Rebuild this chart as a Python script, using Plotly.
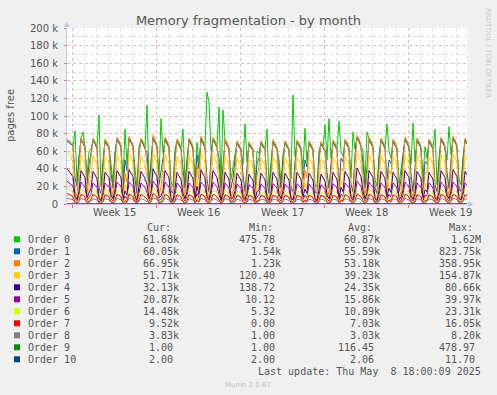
import pandas as pd
import plotly.graph_objects as go

# ---------------- data (values in thousands of pages) ----------------
# 4-hourly samples starting 2025-04-06 14:00 (first row partial day: 14,18,22h;
# then each row = one day at 02,06,10,14,18,22h)
order0 = [72, 70, 68,
    66, 83, 25, 55, 74, 82,
    65, 30, 60, 62, 73, 69,
    64, 101, 20, 50, 72, 68,
    65, 45, 25, 60, 74, 70,
    66, 25, 85, 45, 75, 71,
    66, 40, 20, 65, 73, 69,
    64, 112, 25, 48, 76, 71,
    66, 30, 97, 58, 74, 70,
    65, 25, 20, 62, 72, 68,
    63, 85, 25, 52, 73, 69,
    64, 25, 70, 46, 75, 70,
    65, 127, 116, 60, 74, 70,
    65, 110, 20, 107, 72, 68,
    63, 28, 40, 56, 70, 66,
    62, 45, 91, 48, 69, 65,
    62, 22, 60, 58, 70, 66,
    63, 85, 20, 48, 71, 67,
    63, 50, 25, 56, 70, 66,
    62, 28, 124, 54, 71, 67,
    63, 40, 86, 48, 70, 66,
    62, 22, 20, 60, 69, 65,
    90, 50, 97, 52, 71, 67,
    63, 94, 60, 54, 72, 68,
    64, 30, 82, 62, 76, 72,
    66, 60, 25, 82, 74, 70,
    65, 28, 20, 56, 73, 69,
    64, 91, 60, 52, 72, 68,
    63, 22, 40, 60, 74, 70,
    65, 45, 92, 48, 73, 69,
    64, 28, 65, 52, 72, 68,
    63, 85, 22, 52, 74, 70,
    65, 50, 88, 56, 75, 71,
    66, 28, 22, 54, 73, 69]

order1 = [72, 70, 68,
    66, 30, 20, 50, 73, 69,
    64, 22, 45, 58, 72, 68,
    63, 18, 12, 46, 71, 67,
    64, 35, 18, 55, 73, 69,
    65, 15, 50, 38, 74, 70,
    65, 28, 12, 60, 72, 68,
    63, 58, 18, 42, 75, 70,
    65, 22, 35, 52, 73, 69,
    64, 15, 12, 56, 71, 67,
    62, 40, 18, 46, 72, 68,
    63, 18, 56, 40, 74, 69,
    64, 28, 14, 54, 73, 69,
    64, 52, 12, 44, 71, 67,
    62, 18, 30, 50, 69, 65,
    61, 34, 14, 42, 68, 64,
    61, 14, 46, 52, 69, 65,
    62, 26, 12, 42, 70, 66,
    62, 38, 18, 50, 69, 65,
    61, 18, 14, 48, 70, 66,
    62, 28, 50, 42, 69, 65,
    61, 14, 12, 54, 68, 64,
    60, 36, 18, 46, 70, 66,
    62, 18, 52, 48, 71, 67,
    63, 22, 14, 56, 75, 71,
    65, 46, 18, 42, 73, 69,
    64, 18, 12, 50, 72, 68,
    63, 28, 50, 46, 71, 67,
    62, 14, 28, 54, 73, 69,
    64, 34, 14, 42, 72, 68,
    63, 18, 48, 46, 71, 67,
    62, 22, 14, 46, 73, 69,
    64, 36, 18, 50, 74, 70,
    65, 18, 14, 48, 72, 68]

order2 = [74, 72, 70,
    68, 15, 8, 40, 76, 72,
    66, 10, 30, 50, 75, 71,
    65, 8, 5, 35, 74, 70,
    66, 20, 8, 45, 76, 72,
    67, 6, 35, 25, 77, 72,
    67, 14, 5, 55, 75, 71,
    65, 45, 8, 30, 78, 73,
    67, 10, 20, 42, 76, 72,
    66, 6, 5, 48, 74, 70,
    64, 25, 8, 35, 75, 71,
    65, 8, 45, 28, 77, 72,
    66, 14, 6, 44, 76, 72,
    66, 38, 5, 32, 74, 70,
    64, 8, 15, 40, 72, 68,
    63, 18, 6, 30, 71, 67,
    63, 6, 32, 42, 72, 68,
    64, 12, 5, 30, 73, 69,
    64, 24, 8, 40, 72, 68,
    63, 8, 6, 36, 73, 69,
    64, 14, 38, 30, 72, 68,
    63, 6, 5, 44, 71, 67,
    62, 22, 8, 34, 73, 69,
    64, 8, 40, 38, 74, 70,
    65, 10, 6, 46, 78, 74,
    67, 32, 8, 30, 76, 72,
    66, 8, 5, 40, 75, 71,
    65, 14, 38, 34, 74, 70,
    64, 6, 14, 44, 76, 72,
    66, 18, 6, 30, 75, 71,
    65, 8, 35, 36, 74, 70,
    64, 10, 6, 34, 76, 72,
    66, 22, 8, 40, 77, 73,
    67, 8, 6, 36, 75, 71]

order3 = [60, 57, 53,
    47, 12, 5, 22, 56, 51,
    46, 8, 18, 28, 55, 50,
    45, 6, 4, 20, 54, 50,
    46, 14, 6, 25, 56, 51,
    47, 5, 22, 15, 57, 52,
    47, 10, 4, 30, 55, 50,
    45, 30, 6, 18, 58, 52,
    47, 8, 12, 24, 56, 51,
    46, 5, 4, 26, 54, 49,
    44, 16, 6, 20, 55, 50,
    45, 6, 28, 16, 57, 52,
    46, 10, 5, 25, 56, 51,
    46, 24, 4, 19, 54, 49,
    44, 6, 10, 23, 52, 48,
    43, 12, 5, 18, 51, 47,
    43, 5, 20, 24, 52, 48,
    44, 8, 4, 18, 53, 49,
    44, 15, 6, 23, 52, 48,
    43, 6, 5, 21, 53, 49,
    44, 10, 24, 18, 52, 48,
    43, 5, 4, 25, 51, 47,
    42, 14, 6, 20, 53, 49,
    44, 6, 26, 22, 54, 50,
    45, 8, 5, 26, 58, 53,
    47, 20, 6, 18, 56, 51,
    46, 6, 4, 23, 55, 50,
    45, 10, 24, 20, 54, 50,
    44, 5, 9, 25, 56, 51,
    46, 12, 5, 18, 55, 50,
    45, 6, 22, 21, 54, 50,
    44, 8, 5, 20, 56, 51,
    46, 14, 6, 23, 57, 52,
    47, 6, 5, 21, 55, 50]

order4 = [40.5, 37, 34,
    31, 9, 5, 14, 38, 34,
    30, 7, 12, 18, 37, 33,
    29, 6, 4, 13, 36, 33,
    30, 10, 6, 16, 38, 34,
    30, 5, 15, 10, 39, 35,
    31, 8, 4, 20, 37, 33,
    29, 22, 6, 12, 40, 35,
    31, 7, 9, 15, 38, 34,
    30, 5, 4, 17, 36, 32,
    28, 12, 6, 14, 37, 33,
    29, 6, 20, 11, 39, 34,
    30, 8, 5, 16, 38, 34,
    30, 18, 4, 13, 36, 32,
    28, 6, 7, 15, 35, 31,
    27, 9, 5, 12, 34, 30,
    27, 5, 14, 16, 35, 31,
    28, 7, 4, 12, 36, 32,
    28, 11, 6, 15, 35, 31,
    27, 6, 5, 14, 36, 32,
    28, 8, 17, 12, 35, 31,
    27, 5, 4, 16, 34, 30,
    26, 10, 6, 13, 36, 32,
    28, 6, 19, 14, 37, 33,
    29, 7, 5, 17, 41, 36,
    31, 15, 6, 12, 38, 34,
    30, 6, 4, 15, 37, 33,
    29, 8, 18, 13, 36, 32,
    28, 5, 7, 16, 38, 34,
    30, 9, 5, 12, 37, 33,
    29, 6, 16, 14, 36, 32,
    28, 7, 5, 13, 38, 34,
    30, 10, 6, 15, 39, 35,
    31, 6, 5, 14, 37, 33]

order5 = [26, 24, 22,
    20, 5, 3, 9, 25, 22,
    19, 4, 7, 11, 24, 21,
    19, 3, 2, 8, 24, 21,
    20, 6, 3, 10, 25, 22,
    20, 3, 9, 6, 25, 22,
    20, 5, 2, 12, 24, 21,
    19, 13, 3, 7, 26, 23,
    20, 4, 5, 9, 25, 22,
    19, 3, 2, 10, 24, 21,
    18, 7, 3, 8, 24, 21,
    19, 3, 12, 7, 25, 22,
    20, 5, 3, 10, 25, 22,
    19, 11, 2, 8, 24, 21,
    18, 3, 4, 9, 23, 20,
    18, 5, 3, 7, 22, 20,
    18, 3, 8, 10, 23, 20,
    18, 4, 2, 7, 23, 21,
    18, 6, 3, 9, 23, 20,
    18, 3, 3, 8, 23, 21,
    18, 5, 10, 7, 23, 20,
    17, 3, 2, 10, 22, 20,
    17, 6, 3, 8, 23, 21,
    18, 3, 11, 9, 24, 21,
    19, 4, 3, 10, 26, 23,
    20, 9, 3, 7, 25, 22,
    19, 3, 2, 9, 24, 21,
    19, 5, 11, 8, 24, 21,
    18, 3, 4, 10, 25, 22,
    19, 5, 3, 7, 24, 21,
    19, 3, 10, 9, 24, 21,
    18, 4, 3, 8, 25, 22,
    19, 6, 3, 9, 25, 22,
    20, 3, 3, 9, 24, 21]

order6 = [18, 16, 14,
    13, 3, 2, 6, 17, 15,
    12, 2, 5, 7, 16, 14,
    12, 2, 1, 5, 16, 14,
    13, 4, 2, 6, 17, 15,
    13, 2, 6, 4, 17, 15,
    13, 3, 1, 8, 16, 14,
    12, 9, 2, 5, 18, 15,
    13, 3, 3, 6, 17, 15,
    12, 2, 1, 6, 16, 14,
    12, 5, 2, 5, 16, 14,
    12, 2, 8, 5, 17, 15,
    13, 3, 2, 6, 17, 15,
    12, 7, 1, 5, 16, 14,
    12, 2, 3, 6, 15, 13,
    11, 3, 2, 5, 15, 13,
    11, 2, 5, 6, 15, 13,
    12, 3, 1, 5, 15, 14,
    12, 4, 2, 6, 15, 13,
    11, 2, 2, 5, 15, 14,
    12, 3, 7, 5, 15, 13,
    11, 2, 1, 6, 15, 13,
    11, 4, 2, 5, 15, 14,
    12, 2, 7, 6, 16, 14,
    12, 3, 2, 6, 17, 15,
    13, 6, 2, 5, 17, 15,
    12, 2, 1, 6, 16, 14,
    12, 3, 7, 5, 16, 14,
    12, 2, 3, 6, 17, 15,
    12, 3, 2, 5, 16, 14,
    12, 2, 6, 6, 16, 14,
    12, 3, 2, 5, 17, 15,
    12, 4, 2, 6, 17, 15,
    13, 2, 2, 6, 16, 14]

order7 = [12, 10.5, 9.5,
    8.5, 2, 1, 4, 11, 10,
    8, 1, 3, 5, 11, 9.5,
    8, 1, 0.5, 3, 10.5, 9.5,
    8.5, 2.5, 1, 4, 11, 10,
    8.5, 1, 4, 2.5, 11.5, 10,
    8.5, 2, 0.5, 5, 11, 9.5,
    8, 6, 1, 3, 12, 10,
    8.5, 1.5, 2, 4, 11, 10,
    8, 1, 0.5, 4, 10.5, 9.5,
    8, 3, 1, 3, 10.5, 9.5,
    8, 1, 5, 3, 11, 10,
    8.5, 2, 1, 4, 11, 10,
    8, 4.5, 0.5, 3, 10.5, 9.5,
    8, 1, 2, 4, 10, 9,
    7.5, 2, 1, 3, 10, 9,
    7.5, 1, 3.5, 4, 10, 9,
    8, 2, 0.5, 3, 10, 9,
    8, 2.5, 1, 4, 10, 9,
    7.5, 1, 1, 3, 10, 9,
    8, 2, 4.5, 3, 10, 9,
    7.5, 1, 0.5, 4, 10, 9,
    7.5, 2.5, 1, 3, 10, 9,
    8, 1, 4.5, 4, 10.5, 9.5,
    8, 2, 1, 4, 11.5, 10,
    8.5, 4, 1, 3, 11, 10,
    8, 1, 0.5, 4, 10.5, 9.5,
    8, 2, 4.5, 3, 10.5, 9.5,
    8, 1, 2, 4, 11, 10,
    8, 2, 1, 3, 10.5, 9.5,
    8, 1, 4, 4, 10.5, 9.5,
    8, 2, 1, 3, 11, 10,
    8, 2.5, 1, 4, 11, 10,
    8.5, 1, 1, 4, 10.5, 9.5]

order8 = [6.5, 6, 5.5,
    5, 1.5, 1, 2.5, 6.5, 5.5,
    5, 1, 2, 3, 6, 5.5,
    4.5, 1, 1, 2, 6, 5.5,
    5, 1.5, 1, 2.5, 6.5, 5.5,
    5, 1, 2.5, 1.5, 6.5, 6,
    5, 1.5, 1, 3, 6, 5.5,
    4.5, 3, 1, 2, 7, 6,
    5, 1, 1.5, 2.5, 6.5, 5.5,
    4.5, 1, 1, 2.5, 6, 5.5,
    4.5, 2, 1, 2, 6, 5.5,
    4.5, 1, 3, 2, 6.5, 5.5,
    5, 1.5, 1, 2.5, 6.5, 5.5,
    4.5, 2.5, 1, 2, 6, 5.5,
    4.5, 1, 1.5, 2.5, 5.5, 5,
    4, 1.5, 1, 2, 5.5, 5,
    4, 1, 2, 2.5, 5.5, 5,
    4.5, 1, 1, 2, 5.5, 5,
    4.5, 1.5, 1, 2.5, 5.5, 5,
    4, 1, 1, 2, 5.5, 5,
    4.5, 1.5, 2.5, 2, 5.5, 5,
    4, 1, 1, 2.5, 5.5, 5,
    4, 1.5, 1, 2, 5.5, 5,
    4.5, 1, 2.5, 2.5, 6, 5.5,
    4.5, 1.5, 1, 2.5, 6.5, 6,
    5, 2, 1, 2, 6.5, 5.5,
    4.5, 1, 1, 2.5, 6, 5.5,
    4.5, 1.5, 2.5, 2, 6, 5.5,
    4.5, 1, 1.5, 2.5, 6.5, 5.5,
    4.5, 1.5, 1, 2, 6, 5.5,
    4.5, 1, 2, 2.5, 6, 5.5,
    4.5, 1.5, 1, 2, 6.5, 5.5,
    4.5, 1.5, 1, 2.5, 6.5, 6,
    5, 1, 1, 2.5, 6, 5.5]

# daily samples starting 2025-04-06 14:00
order9 = [0.10, 0.12, 0.08, 0.15, 0.11, 0.09, 0.13, 0.10, 0.12, 0.14, 0.09, 0.11,
          0.10, 0.13, 0.12, 0.08, 0.10, 0.15, 0.11, 0.12, 0.09, 0.10, 0.14, 0.12,
          0.11, 0.13, 0.10, 0.09, 0.12, 0.11, 0.13, 0.10, 0.12, 0.11, 0.10]
order10 = [0.002, 0.002, 0.0021, 0.002, 0.002, 0.0022, 0.002, 0.002, 0.0021, 0.002,
           0.002, 0.002, 0.0023, 0.002, 0.002, 0.0021, 0.002, 0.002, 0.002, 0.0022,
           0.002, 0.002, 0.0021, 0.002, 0.002, 0.002, 0.0021, 0.002, 0.002, 0.0022,
           0.002, 0.002, 0.0021, 0.002, 0.002]

series_names = ["Order 0", "Order 1", "Order 2", "Order 3", "Order 4", "Order 5",
                "Order 6", "Order 7", "Order 8", "Order 9", "Order 10"]
series_colors = ["#00CC00", "#0066B3", "#FF8000", "#FFCC00", "#330099", "#990099",
                 "#CCFF00", "#FF0000", "#808080", "#008F00", "#00487D"]
cur_vals = ["61.68k", "60.05k", "66.95k", "51.71k", "32.13k", "20.87k", "14.48k",
            "9.52k", "3.83k", "1.00", "2.00"]
min_vals = ["475.78", "1.54k", "1.23k", "120.40", "138.72", "10.12", "5.32",
            "0.00", "1.00", "1.00", "2.00"]
avg_vals = ["60.87k", "55.59k", "53.18k", "39.23k", "24.35k", "15.86k", "10.89k",
            "7.03k", "3.03k", "116.45", "2.06"]
max_vals = ["1.62M", "823.75k", "358.95k", "154.87k", "80.66k", "39.97k", "23.31k",
            "16.05k", "8.20k", "478.97", "11.70"]

y_tick_vals = [0, 20, 40, 60, 80, 100, 120, 140, 160, 180, 200]
y_tick_text = ["0", "20 k", "40 k", "60 k", "80 k", "100 k", "120 k", "140 k",
               "160 k", "180 k", "200 k"]
week_starts = ["2025-04-07", "2025-04-14", "2025-04-21", "2025-04-28", "2025-05-05"]
week_mids = ["2025-04-10 12:00", "2025-04-17 12:00", "2025-04-24 12:00",
             "2025-05-01 12:00", "2025-05-08 12:00"]
week_labels = ["Week 15", "Week 16", "Week 17", "Week 18", "Week 19"]

# ---------------- layout geometry ----------------
W, H = 497, 395
L, R, T, B = 67, 30, 28, 191
PW = W - L - R
PH = H - T - B
BOTTOM = H - B


def px(x):
    return (x - L) / PW


def py(y):
    return (BOTTOM - y) / PH


t4 = pd.date_range("2025-04-06 14:00", periods=201, freq="4h")
tday = pd.date_range("2025-04-06 14:00", periods=35, freq="1D")

fig = go.Figure()
main = [order0, order1, order2, order3, order4, order5, order6, order7, order8]
for i, vals in enumerate(main):
    fig.add_trace(go.Scatter(x=t4[:len(vals)], y=vals, mode="lines",
                             line=dict(color=series_colors[i], width=1),
                             name=series_names[i], showlegend=False))
for i, vals in [(9, order9), (10, order10)]:
    fig.add_trace(go.Scatter(x=tday[:len(vals)], y=vals, mode="lines",
                             line=dict(color=series_colors[i], width=1),
                             name=series_names[i], showlegend=False))

TXT = "#555555"
MONO = "DejaVu Sans Mono"
SANS = "DejaVu Sans"
NB = "\u00a0"

ann = []
shapes = []
# week labels
for d, lab in zip(week_mids, week_labels):
    ann.append(dict(x=d, y=py(212), xref="x", yref="paper", text=lab,
                    showarrow=False, xanchor="center", yanchor="middle",
                    font=dict(family=SANS, size=10, color=TXT)))
# y axis title
ann.append(dict(x=px(11), y=py(115), xref="paper", yref="paper", text="pages free",
                textangle=-90, showarrow=False, xanchor="center", yanchor="middle",
                font=dict(family=SANS, size=10, color=TXT)))
# rrdtool credit
ann.append(dict(x=px(488), y=py(53), xref="paper", yref="paper",
                text="RRDTOOL / TOBI OETIKER", textangle=90, showarrow=False,
                xanchor="center", yanchor="middle",
                font=dict(family=SANS, size=7, color="#c8c8c8")))
# axis arrows
ann.append(dict(x=px(67), y=py(24), xref="paper", yref="paper", text="▲",
                showarrow=False, xanchor="center", yanchor="middle",
                font=dict(family=SANS, size=7, color="#c0c0ee")))
ann.append(dict(x=px(471), y=py(204), xref="paper", yref="paper", text="▶",
                showarrow=False, xanchor="center", yanchor="middle",
                font=dict(family=SANS, size=7, color="#c0c0ee")))

# legend header
for lab, x0 in [("Cur:", 145), ("Min:", 247), ("Avg:", 346), ("Max:", 447)]:
    ann.append(dict(x=px(x0), y=py(227.5), xref="paper", yref="paper", text=lab,
                    showarrow=False, xanchor="left", yanchor="middle",
                    font=dict(family=MONO, size=10, color=TXT)))

col_edges = [181, 282.5, 382, 483]


def pad(v):
    return v if v[-1] in "kM" else v + NB


for i, name in enumerate(series_names):
    yrow = 239.3 + 12 * i
    shapes.append(dict(type="rect", xref="paper", yref="paper",
                       x0=px(14), x1=px(20), y0=py(yrow + 3), y1=py(yrow - 3),
                       fillcolor=series_colors[i], line=dict(width=0)))
    ann.append(dict(x=px(26), y=py(yrow), xref="paper", yref="paper", text=name,
                    showarrow=False, xanchor="left", yanchor="middle",
                    font=dict(family=MONO, size=10, color=TXT)))
    for edge, vals in zip(col_edges, [cur_vals, min_vals, avg_vals, max_vals]):
        ann.append(dict(x=px(edge), y=py(yrow), xref="paper", yref="paper",
                        text=pad(vals[i]), showarrow=False, xanchor="right",
                        yanchor="middle", font=dict(family=MONO, size=10, color=TXT)))

ann.append(dict(x=px(483), y=py(371), xref="paper", yref="paper",
                text="Last update: Thu May" + NB + NB + "8 18:00:09 2025",
                showarrow=False, xanchor="right", yanchor="middle",
                font=dict(family=MONO, size=10, color=TXT)))
ann.append(dict(x=px(248), y=py(384.5), xref="paper", yref="paper",
                text="Munin 2.0.67", showarrow=False, xanchor="center",
                yanchor="middle", font=dict(family=SANS, size=7, color="#c0c0c0")))

RED_GRID = "rgba(232,140,140,0.45)"
MINOR_GRID = "#dcdcdc"
AXIS = "#c4c4ec"

fig.update_layout(
    width=W, height=H,
    margin=dict(l=L, r=R, t=T, b=B, pad=0),
    paper_bgcolor="#f0f0f0", plot_bgcolor="white",
    title=dict(text="Memory fragmentation - by month", x=0.5, xref="container",
               xanchor="center", y=1 - 20 / H, yref="container", yanchor="middle",
               font=dict(family=SANS, size=13, color=TXT)),
    showlegend=False,
    xaxis=dict(type="date", range=["2025-04-06 14:00", "2025-05-09 22:00"],
               tickmode="array", tickvals=week_starts, showticklabels=False,
               ticks="outside", ticklen=3, tickcolor="#e07070",
               showgrid=True, gridcolor=RED_GRID, griddash="dot", gridwidth=1,
               minor=dict(dtick=86400000, tick0="2025-04-07", showgrid=True,
                          gridcolor=MINOR_GRID, griddash="dot", ticks=""),
               showline=True, linecolor=AXIS, linewidth=1, zeroline=False,
               fixedrange=True),
    yaxis=dict(range=[0, 200], tickmode="array", tickvals=y_tick_vals,
               ticktext=y_tick_text, ticks="outside", ticklen=2, tickcolor="#e07070",
               ticklabelstandoff=4,
               tickfont=dict(family=SANS, size=10, color=TXT),
               showgrid=True, gridcolor=RED_GRID, griddash="dot", gridwidth=1,
               minor=dict(dtick=10, showgrid=True, gridcolor=MINOR_GRID,
                          griddash="dot", ticks=""),
               showline=True, linecolor=AXIS, linewidth=1, zeroline=False,
               fixedrange=True),
    annotations=ann,
    shapes=shapes,
)

fig.write_html("out.html")
